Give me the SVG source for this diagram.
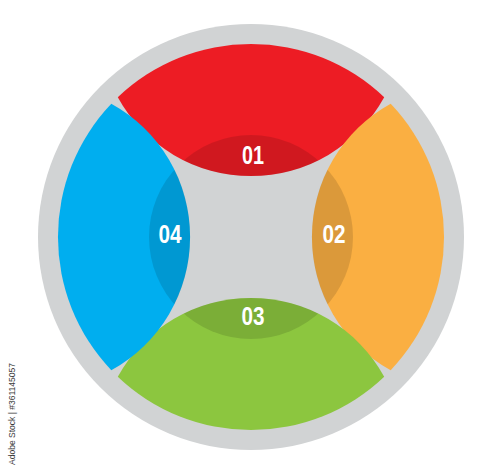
<svg xmlns="http://www.w3.org/2000/svg" width="500" height="473" viewBox="0 0 500 473">
  <style>
    .num { font-family: "Liberation Sans", Arial, sans-serif; font-weight: bold; font-size: 25px; fill: #ffffff; text-anchor: middle; }
    .shade { fill: #000000; fill-opacity: 0.12; }
    .wm { font-family: "Liberation Sans", sans-serif; font-size: 9px; fill: #3a3a3a; }
  </style>
  <defs>
    <clipPath id="segs">
      <path d="M117.8 97.3 A193 193 0 0 1 384.2 97.3 A152 152 0 0 1 117.8 97.3 Z"/>
      <path d="M390.7 103.8 A193 193 0 0 1 390.7 370.2 A152 152 0 0 1 390.7 103.8 Z"/>
      <path d="M384.2 376.7 A193 193 0 0 1 117.8 376.7 A152 152 0 0 1 384.2 376.7 Z"/>
      <path d="M111.3 370.2 A193 193 0 0 1 111.3 103.8 A152 152 0 0 1 111.3 370.2 Z"/>
    </clipPath>
  </defs>
  <rect width="500" height="473" fill="#ffffff"/>
  <g id="ring">
    <circle cx="251" cy="237" r="213" fill="#D1D3D4"/>
  </g>
  <g id="seg01">
    <path d="M117.8 97.3 A193 193 0 0 1 384.2 97.3 A152 152 0 0 1 117.8 97.3 Z" fill="#ED1C24"/>
  </g>
  <g id="seg02">
    <path d="M390.7 103.8 A193 193 0 0 1 390.7 370.2 A152 152 0 0 1 390.7 103.8 Z" fill="#FAAF42"/>
  </g>
  <g id="seg03">
    <path d="M384.2 376.7 A193 193 0 0 1 117.8 376.7 A152 152 0 0 1 384.2 376.7 Z" fill="#8CC63F"/>
  </g>
  <g id="seg04">
    <path d="M111.3 370.2 A193 193 0 0 1 111.3 103.8 A152 152 0 0 1 111.3 370.2 Z" fill="#00AEEF"/>
  </g>
  <g id="hub">
    <circle class="shade" cx="251" cy="237" r="102" clip-path="url(#segs)"/>
  </g>
  <g id="labels">
    <text class="num" x="253" y="164" textLength="22" lengthAdjust="spacingAndGlyphs">01</text>
    <text class="num" x="334" y="243" textLength="23" lengthAdjust="spacingAndGlyphs">02</text>
    <text class="num" x="253" y="325" textLength="23" lengthAdjust="spacingAndGlyphs">03</text>
    <text class="num" x="170" y="243" textLength="23" lengthAdjust="spacingAndGlyphs">04</text>
  </g>
  <text class="wm" transform="translate(15,465) rotate(-90)" textLength="102" lengthAdjust="spacingAndGlyphs">Adobe Stock | #361145057</text>
</svg>
